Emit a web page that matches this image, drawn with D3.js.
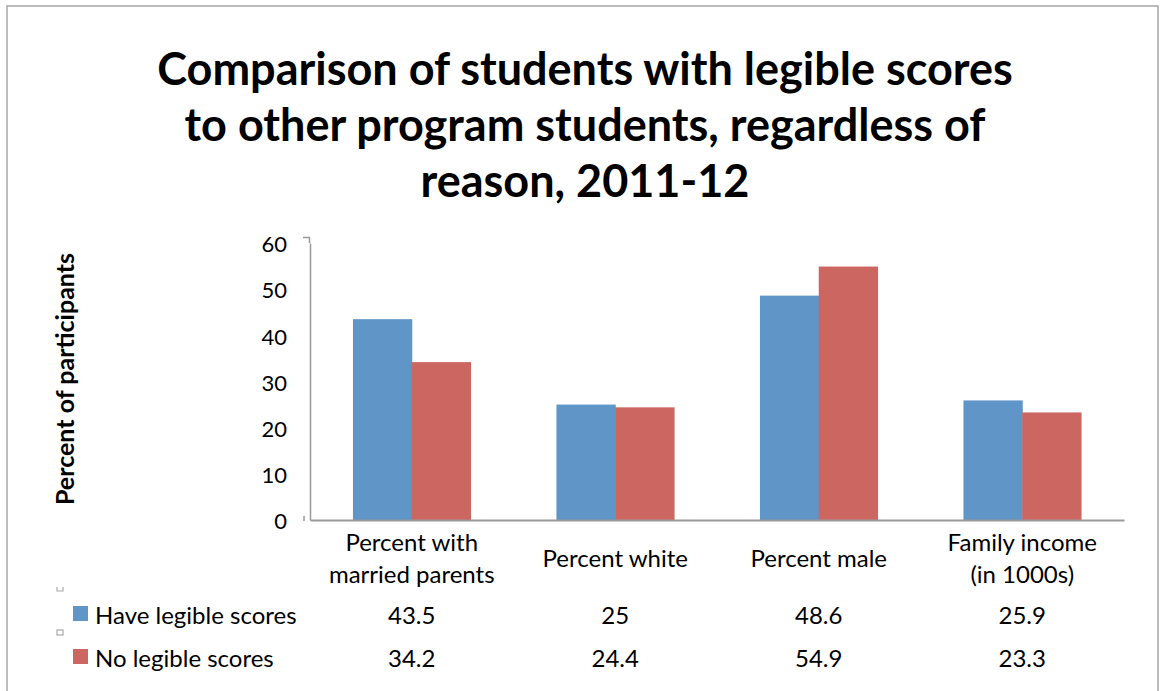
<!DOCTYPE html>
<html>
<head>
<meta charset="utf-8">
<script src="https://cdn.jsdelivr.net/npm/d3@7"></script>
<style>
  html, body { margin: 0; padding: 0; background: #fff; }
  svg { display: block; }
  text { font-family: Lato, "Open Sans", sans-serif; fill: #000; }
</style>
</head>
<body>
<svg id="chart" width="1161" height="691"></svg>
<script>
// Chart data
const categories = [["Percent with", "married parents"], ["Percent white"], ["Percent male"], ["Family income", "(in 1000s)"]];
const seriesNames = ["Have legible scores", "No legible scores"];
const haveScores = [43.5, 25, 48.6, 25.9];
const noScores = [34.2, 24.4, 54.9, 23.3];
const yTicks = [0, 10, 20, 30, 40, 50, 60];
const titleLines = ["Comparison of students with legible scores", "to other program students, regardless of", "reason, 2011-12"];
const yLabel = "Percent of participants";
const colors = ["#5f95c7", "#cc6660"];

const series = [haveScores, noScores];
const svg = d3.select("#chart");

// Chart frame
svg.append("rect")
  .attr("x", 7).attr("y", 6).attr("width", 1151).attr("height", 720)
  .attr("fill", "#fff").attr("stroke", "#a6a6a6").attr("stroke-width", 1.5);

// Title
const title = svg.append("text").attr("text-anchor", "middle")
  .style("font-weight", "bold").style("font-size", "45px");
title.selectAll("tspan").data(titleLines).join("tspan")
  .attr("x", 585).attr("y", (d, i) => 85 + i * 56).text(d => d);

// Plot area
const plot = { left: 310, right: 1124, top: 243, bottom: 520 };
const y = d3.scaleLinear().domain([0, 60]).range([plot.bottom, plot.top]);
const idx = d3.range(categories.length);
const x0 = d3.scaleBand().domain(idx).range([plot.left, plot.right]);
const gap = x0.step() * 0.422;
const x1 = d3.scaleBand().domain(d3.range(series.length)).range([gap / 2, x0.step() - gap / 2]);

// Bars
series.forEach((vals, s) => {
  svg.append("g").selectAll("rect").data(vals).join("rect")
    .attr("x", (d, i) => x0(i) + x1(s))
    .attr("y", d => y(d))
    .attr("width", x1.bandwidth() + 0.5)
    .attr("height", d => y(0) - y(d))
    .attr("fill", colors[s]);
});

// Y axis
const yAxis = svg.append("g").attr("transform", `translate(${plot.left},0)`)
  .call(d3.axisLeft(y).tickValues(yTicks).tickSize(0).tickPadding(23));
yAxis.select(".domain").attr("stroke", "#999").attr("stroke-width", 1.5);
yAxis.selectAll("text")
  .style("font-size", "22px").style("font-family", "Lato, sans-serif")
  .attr("fill", "#000").attr("dy", "0.4em");

// X axis baseline
const xAxis = svg.append("g").attr("transform", `translate(0,${plot.bottom})`)
  .call(d3.axisBottom(x0).tickSize(0).tickFormat(""));
xAxis.select(".domain").attr("stroke", "#999").attr("stroke-width", 2);

// Small axis end marks
svg.append("path").attr("d", "M303,237.5H309.5V243").attr("fill", "none").attr("stroke", "#999").attr("stroke-width", 1.5);
svg.append("line").attr("x1", 304).attr("x2", 304).attr("y1", 516).attr("y2", 521).attr("stroke", "#999").attr("stroke-width", 1.5);

// Category labels
const catG = svg.append("g");
categories.forEach((lines, i) => {
  const cx = x0(i) + x0.bandwidth() / 2;
  const y0 = lines.length === 1 ? 567 : 551;
  const t = catG.append("text").attr("text-anchor", "middle").style("font-size", "24px");
  t.selectAll("tspan").data(lines).join("tspan")
    .attr("x", cx).attr("y", (d, k) => y0 + k * 32).text(d => d);
});

// Data table with legend keys
const rowY = [624, 667];
series.forEach((vals, s) => {
  svg.append("rect").attr("x", 73).attr("y", rowY[s] - 18).attr("width", 15).attr("height", 15).attr("fill", colors[s]);
  svg.append("text").attr("x", 95).attr("y", rowY[s]).style("font-size", "24px").text(seriesNames[s]);
  svg.append("g").selectAll("text").data(vals).join("text")
    .attr("x", (d, i) => x0(i) + x0.bandwidth() / 2)
    .attr("y", rowY[s])
    .attr("text-anchor", "middle").style("font-size", "24px")
    .text(d => d);
});
// Table row markers
svg.append("path").attr("d", "M57,587V591H63V587").attr("fill", "none").attr("stroke", "#aaa").attr("stroke-width", 1.2);
svg.append("rect").attr("x", 57).attr("y", 630).attr("width", 6).attr("height", 5).attr("fill", "none").attr("stroke", "#aaa").attr("stroke-width", 1.2);

// Y axis title
svg.append("text")
  .attr("transform", "translate(74,379) rotate(-90)")
  .attr("text-anchor", "middle")
  .style("font-weight", "bold").style("font-size", "25px")
  .text(yLabel);
</script>
</body>
</html>
